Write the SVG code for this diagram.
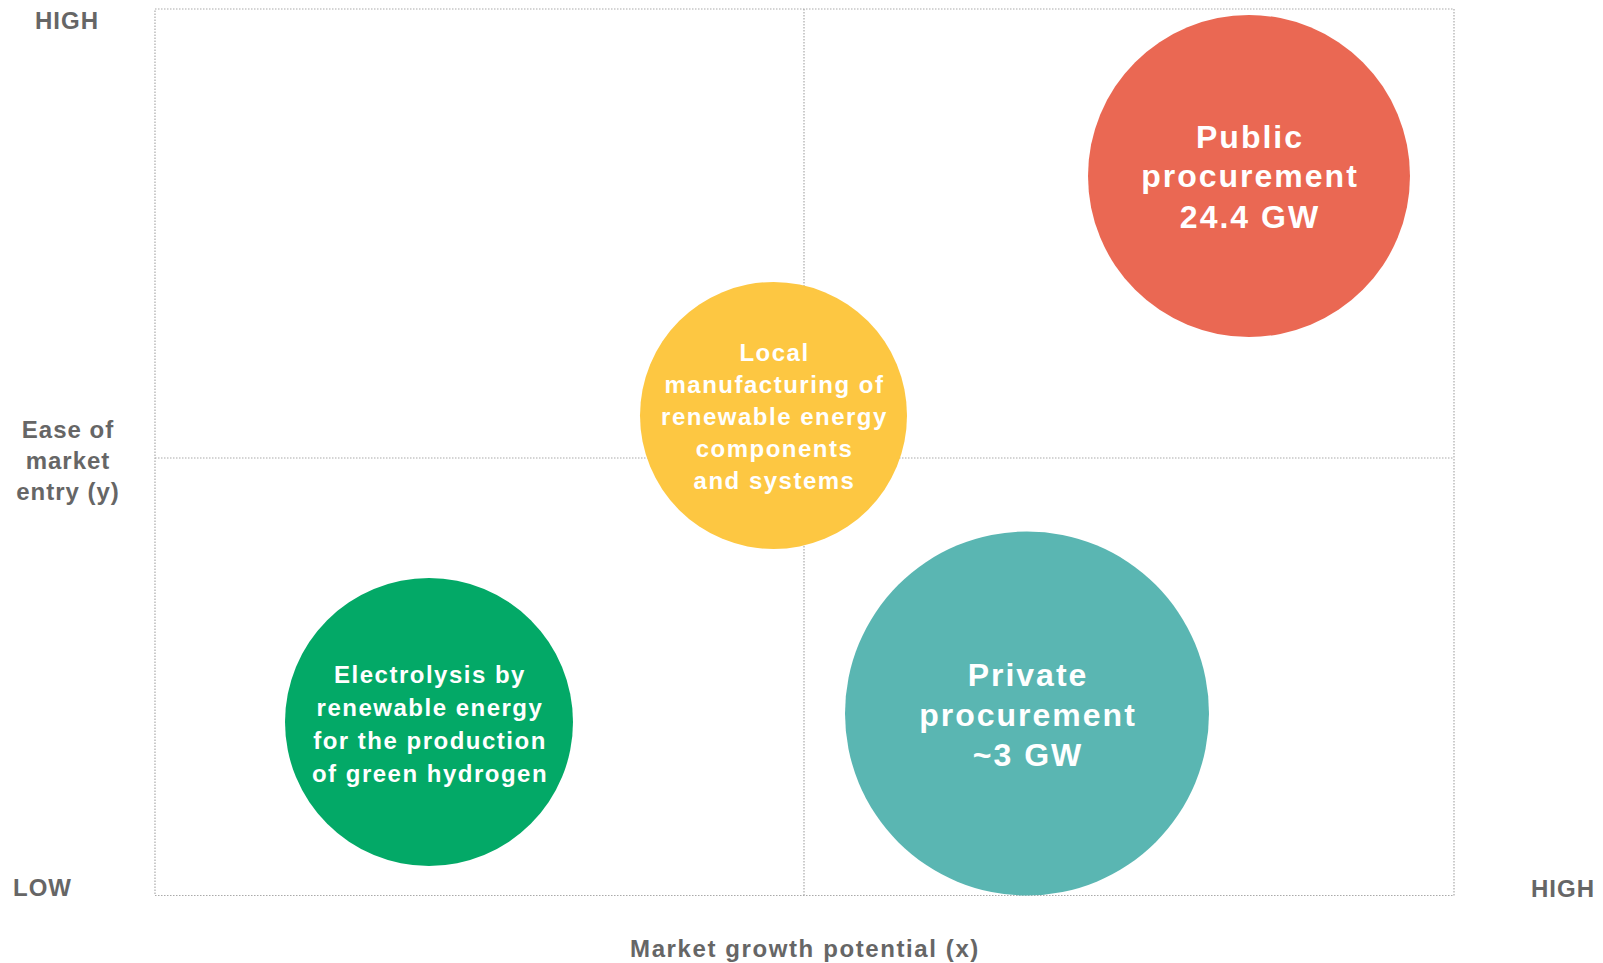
<svg xmlns="http://www.w3.org/2000/svg" width="1603" height="963" viewBox="0 0 1603 963">
<style>
.grid{stroke:#aaaaaa;stroke-width:1.2;stroke-dasharray:1.5 1.5;fill:none}
.ax{font-family:"Liberation Sans",Arial,sans-serif;font-weight:bold;font-size:24px;fill:#666666;letter-spacing:1px}
.lbl{font-family:"Liberation Sans",Arial,sans-serif;font-weight:bold;fill:#ffffff;text-anchor:middle}
.s{font-size:24px;letter-spacing:1.5px}
.b{font-size:32px;letter-spacing:2px}
</style>
<rect width="1603" height="963" fill="#ffffff"/>
<g id="connectors">
<rect class="grid" x="155" y="9" width="1299" height="886.5"/>
<line class="grid" x1="804" y1="9" x2="804" y2="895.5"/>
<line class="grid" x1="155" y1="458" x2="1454" y2="458"/>
</g>
<g id="axis-labels">
<text class="ax" x="67" y="29" text-anchor="middle">HIGH</text>
<text class="ax" x="13" y="896">LOW</text>
<text class="ax" x="1595" y="897" text-anchor="end">HIGH</text>
<text class="ax" x="68" y="438" text-anchor="middle">Ease of</text>
<text class="ax" x="68" y="469" text-anchor="middle">market</text>
<text class="ax" x="68" y="500" text-anchor="middle">entry (y)</text>
<text class="ax" x="805" y="957" text-anchor="middle" style="letter-spacing:1.6px">Market growth potential (x)</text>
</g>
<g id="node-public">
<circle cx="1249" cy="176" r="161" fill="#EA6853"/>
<text class="lbl b" x="1250" y="148">Public</text>
<text class="lbl b" x="1250" y="187">procurement</text>
<text class="lbl b" x="1250" y="228">24.4 GW</text>
</g>
<g id="node-private">
<circle cx="1027" cy="713.5" r="182" fill="#5AB6B2"/>
<text class="lbl b" x="1028" y="686">Private</text>
<text class="lbl b" x="1028" y="726">procurement</text>
<text class="lbl b" x="1028" y="766">~3 GW</text>
</g>
<g id="node-local">
<circle cx="773.5" cy="415.5" r="133.5" fill="#FDC742"/>
<text class="lbl s" x="774.5" y="361">Local</text>
<text class="lbl s" x="774.5" y="393">manufacturing of</text>
<text class="lbl s" x="774.5" y="425">renewable energy</text>
<text class="lbl s" x="774.5" y="457">components</text>
<text class="lbl s" x="774.5" y="489">and systems</text>
</g>
<g id="node-electrolysis">
<circle cx="429" cy="722" r="144" fill="#03A967"/>
<text class="lbl s" x="430" y="683">Electrolysis by</text>
<text class="lbl s" x="430" y="716">renewable energy</text>
<text class="lbl s" x="430" y="749">for the production</text>
<text class="lbl s" x="430" y="782">of green hydrogen</text>
</g>
</svg>
